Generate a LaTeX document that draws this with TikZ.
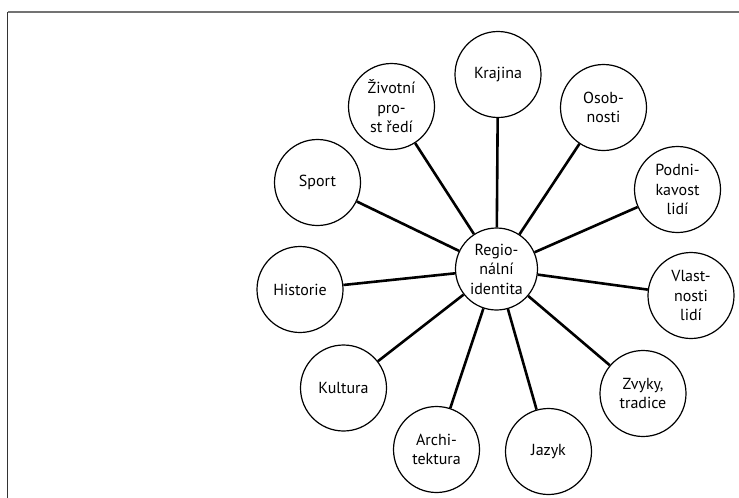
\documentclass[tikz,border=0pt]{standalone}
\usepackage{fontspec}
\setmainfont{PT Sans}
\begin{document}
\begin{tikzpicture}[x=1pt,y=-1pt,
  bub/.style={circle,draw,line width=1.2pt,minimum size=86pt,inner sep=0pt,align=center,
    font=\fontsize{16}{19.5}\selectfont},
  hub/.style={bub,minimum size=82pt},
  link/.style={line width=2.6pt},
  frame/.style={line width=1.5pt}]
\useasboundingbox (0,0) rectangle (739,498);
\draw[frame,color=black!55] (7.5,12) -- (739,12);
\draw[frame,color=black!80] (7.5,12) -- (7.5,498);

\node[hub] (c) at (496.5,269) {Regio-\\nální\\identita};
\node[bub] (kraj) at (498,74.5) {Krajina};
\node[bub] (ziv) at (391.5,106.5) {Životní\\pro-\\st ředí};
\node[bub] (osob) at (603.5,107.5) {Osob-\\nosti};
\node[bub] (sport) at (317.5,182.5) {Sport};
\node[bub] (podn) at (677.5,189.5) {Podni-\\kavost\\lidí};
\node[bub] (hist) at (300,289.5) {Historie};
\node[bub] (vlast) at (691,295.5) {Vlast-\\nosti\\lidí};
\node[bub] (kult) at (343.5,388) {Kultura};
\node[bub] (zvyk) at (643,393.5) {Zvyky,\\tradice};
\node[bub] (arch) at (436.5,449.5) {Archi-\\tektura};
\node[bub] (jaz) at (548.5,451.5) {Jazyk};

\foreach \n in {kraj,ziv,osob,sport,podn,hist,vlast,kult,zvyk,arch,jaz}
  \draw[link] (c) -- (\n);
\end{tikzpicture}
\end{document}
